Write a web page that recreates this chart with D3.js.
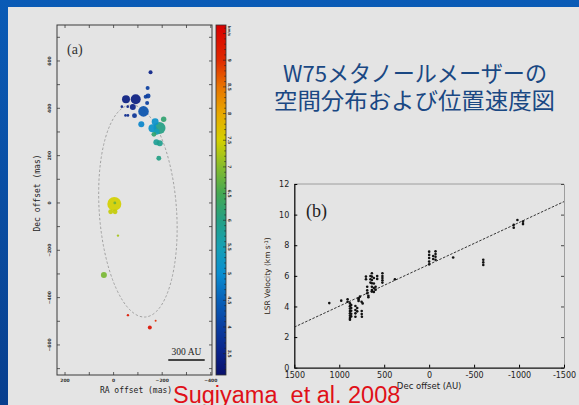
<!DOCTYPE html>
<html><head><meta charset="utf-8">
<script src="https://cdn.jsdelivr.net/npm/d3@7"></script>
<style>html,body{margin:0;padding:0;background:#e4e4e4;overflow:hidden}svg{display:block}</style>
</head><body><svg id="c" width="579" height="405"></svg>
<script>
// ---------------- data ----------------
const titleLines = ["W75メタノールメーザーの", "空間分布および位置速度図"];
const citation = "Sugiyama  et al. 2008";

// (a) methanol maser spots: offsets in mas, LSR velocity in km/s, peak flux (arb.)
const spotRA   = [-152,-140,-142,-132,-51,-91,-138,-34,-58,-79,-123,-49,-59,-86,-114,-171,-206,-160,-189,-177,-166,-176,-190,-186,-3,12,-6,-18,40,-59,-149,-173];
const spotDec  = [552,486,452,449,438,438,422,407,407,406,387,370,370,369,333,343,354,316,317,301,290,257,252,189,-4,-37,-37,-138,-304,-474,-526,-498];
const spotVlsr = [3.5,4.0,4.0,4.0,3.4,3.4,4.0,3.5,3.5,3.5,4.3,3.6,3.6,3.8,4.9,5.1,6.2,5.1,6.0,5.5,6.2,5.8,5.9,6.0,7.5,7.4,7.4,7.2,6.9,9.3,9.4,9.0];
const spotFlux = [4,4,6,4,16,25,4,1.7,1.7,9,28,1.7,1.7,6,9,12,7.3,16,36,9,6,9,9,6,49,6,6,1.4,9,1.4,4,1];
// faint spot sitting on top of the brightest one
const coreRA = [-5], coreDec = [0], coreVlsr = [6.8], coreFlux = [2];

const raTickLabels  = [200, 0, -200, -400];
const decTickLabels = [600, 400, 200, 0, -200, -400, -600];
const cbarTickLabels = [3.5, 4, 4.5, 5, 5.5, 6, 6.5, 7, 7.5, 8, 8.5, 9];
const ringCenter = [-100, -34];   // mas
const ringSemiAxes = [159, 449];  // mas (RA, Dec)
const ringTilt = -4;              // deg
const scaleBarAU = 300, distanceKpc = 2.0;

// (b) position-velocity diagram
const pvDec = [1111,978,907,907,881,881,881,881,881,881,881,881,867,867,867,867,867,820,820,820,820,800,800,785,785,785,770,752,750,750,748,740,703,703,689,689,689,676,676,653,653,653,637,637,637,637,637,637,637,615,615,615,615,596,596,578,578,520,520,520,520,520,381,0,0,0,0,0,-45,-45,-71,-71,-71,-71,-267,-602,-602,-602,-941,-941,-982,-1044,-1044];
const pvVel = [4.22,4.38,4.47,4.31,4.2,4.02,3.86,3.7,3.55,3.4,3.25,3.14,4.1,3.9,3.72,3.52,3.35,4.03,3.77,3.55,3.33,3.9,3.68,4.53,4.45,4.36,4.64,4.31,3.7,3.5,3.33,4.2,5.95,5.78,5.29,5.05,4.86,4.7,4.6,5.99,5.78,5.56,6.17,5.95,5.73,5.52,5.29,5.08,4.97,5.86,5.5,5.2,4.95,5.29,5.1,5.99,5.8,6.17,5.99,5.86,5.71,5.56,5.78,7.58,7.37,7.17,6.93,6.75,7.3,7.1,7.6,7.42,7.25,7.05,7.2,7.05,6.88,6.71,9.33,9.15,9.65,9.54,9.38];
const fitIntercept = 6.75, fitSlope = -0.002733;
const pvXTicks = [1500, 1000, 500, 0, -500, -1000, -1500];
const pvYTicks = [0, 2, 4, 6, 8, 10, 12];

// ---------------- drawing ----------------
const svg = d3.select("#c");
const defs = svg.append("defs");

// slide frame
const fg = defs.append("linearGradient").attr("id","frame").attr("x1",0).attr("y1",0).attr("x2",0).attr("y2",1);
fg.append("stop").attr("offset",0).attr("stop-color","#0a5bb6");
fg.append("stop").attr("offset",1).attr("stop-color","#083f8e");
svg.append("rect").attr("width",579).attr("height",405).attr("fill","url(#frame)");
svg.append("rect").attr("x",8).attr("y",7).attr("width",571).attr("height",398).attr("fill","#e4e4e4");

// velocity colormap
const vColor = d3.scaleLinear()
  .domain([3.1,3.5,4.0,4.5,5.0,5.5,6.0,6.5,7.0,7.5,8.0,8.5,9.0,9.65])
  .range(["#08106c","#0a2288","#0a3ea0","#0860b8","#0a8ed0","#16a0b4","#24a084","#44a852","#86bc2c","#d4d000","#e8a800","#e87400","#e02a00","#d80000"])
  .clamp(true);

// ----- panel (a) -----
const A = {l:57, r:212, t:25, b:375};
const xA = d3.scaleLinear().domain([233,-405]).range([A.l, A.r]);
const yA = d3.scaleLinear().domain([752,-727]).range([A.t, A.b]);
const rA = d3.scaleSqrt().domain([0,50]).range([0,7.07]);

const gA = svg.append("g");
// ring
const cx = xA(ringCenter[0]), cy = yA(ringCenter[1]);
gA.append("ellipse")
  .attr("cx",cx).attr("cy",cy)
  .attr("rx",Math.abs(xA(ringCenter[0]+ringSemiAxes[0])-cx))
  .attr("ry",Math.abs(yA(ringCenter[1]+ringSemiAxes[1])-cy))
  .attr("transform",`rotate(${ringTilt},${cx},${cy})`)
  .attr("fill","none").attr("stroke","#9a9a9a").attr("stroke-width",0.9).attr("stroke-dasharray","2.4,2");

// spots, brightest first so small ones stay visible
const spots = spotRA.map((d,i)=>({ra:d, dec:spotDec[i], v:spotVlsr[i], f:spotFlux[i]}))
  .sort((a,b)=>b.f-a.f)
  .concat(coreRA.map((d,i)=>({ra:d, dec:coreDec[i], v:coreVlsr[i], f:coreFlux[i]})));
gA.selectAll("circle.spot").data(spots).join("circle").attr("class","spot")
  .attr("cx",d=>xA(d.ra)).attr("cy",d=>yA(d.dec)).attr("r",d=>rA(d.f))
  .attr("fill",d=>vColor(d.v)).attr("fill-opacity",0.92);

// frame and ticks
gA.append("rect").attr("x",A.l).attr("y",A.t).attr("width",A.r-A.l).attr("height",A.b-A.t)
  .attr("fill","none").attr("stroke","#3a3a3a").attr("stroke-width",1);
const raMinor = d3.range(200,-401,-100), decMinor = d3.range(700,-701,-100);
raMinor.forEach(v=>{
  gA.append("line").attr("x1",xA(v)).attr("x2",xA(v)).attr("y1",A.b).attr("y2",A.b-3).attr("stroke","#3a3a3a").attr("stroke-width",0.8);
  gA.append("line").attr("x1",xA(v)).attr("x2",xA(v)).attr("y1",A.t).attr("y2",A.t+3).attr("stroke","#3a3a3a").attr("stroke-width",0.8);
});
decMinor.forEach(v=>{
  gA.append("line").attr("x1",A.l).attr("x2",A.l+3).attr("y1",yA(v)).attr("y2",yA(v)).attr("stroke","#3a3a3a").attr("stroke-width",0.8);
  gA.append("line").attr("x1",A.r).attr("x2",A.r-3).attr("y1",yA(v)).attr("y2",yA(v)).attr("stroke","#3a3a3a").attr("stroke-width",0.8);
});
gA.selectAll("text.ra").data(raTickLabels).join("text").attr("class","ra")
  .attr("x",d=>xA(d)).attr("y",A.b+7).attr("text-anchor","middle")
  .attr("font-family","DejaVu Sans").attr("font-size",4.5).attr("font-weight","bold").attr("fill","#333")
  .text(d=>d===0?"0":String(d).replace("-","−"));
gA.selectAll("text.dec").data(decTickLabels).join("text").attr("class","dec")
  .attr("transform",d=>`translate(${A.l-6},${yA(d)}) rotate(-90)`).attr("text-anchor","middle")
  .attr("font-family","DejaVu Sans").attr("font-size",4.5).attr("font-weight","bold").attr("fill","#333")
  .text(d=>d===0?"0":String(d).replace("-","−"));
gA.append("text").attr("transform",`translate(40,193) rotate(-90)`).attr("text-anchor","middle")
  .attr("font-family","DejaVu Sans Mono").attr("font-size",8).attr("fill","#222").text("Dec offset (mas)");
gA.append("text").attr("x",136).attr("y",393).attr("text-anchor","middle")
  .attr("font-family","DejaVu Sans Mono").attr("font-size",8).attr("fill","#222").text("RA offset (mas)");
gA.append("text").attr("x",67).attr("y",54).attr("font-family","Liberation Serif").attr("font-size",14).attr("fill","#333").text("(a)");

// scale bar
const barMas = scaleBarAU / distanceKpc;
const barRight = xA(-375);
const barLeft = barRight - Math.abs(xA(0)-xA(barMas));
gA.append("line").attr("x1",barLeft).attr("x2",barRight).attr("y1",360).attr("y2",360).attr("stroke","#111").attr("stroke-width",1.6);
gA.append("text").attr("x",(barLeft+barRight)/2).attr("y",355).attr("text-anchor","middle")
  .attr("font-family","Liberation Serif").attr("font-size",9.5).attr("fill","#222").text(`${scaleBarAU} AU`);

// colour bar
const C = {l:216, r:226};
const yC = d3.scaleLinear().domain([9.66,3.1]).range([A.t, A.b]);
const cg = defs.append("linearGradient").attr("id","cbar").attr("x1",0).attr("y1",0).attr("x2",0).attr("y2",1);
vColor.domain().slice().reverse().forEach(v=>{
  cg.append("stop").attr("offset",(yC(v)-A.t)/(A.b-A.t)).attr("stop-color",vColor(v));
});
gA.append("rect").attr("x",C.l).attr("y",A.t).attr("width",C.r-C.l).attr("height",A.b-A.t)
  .attr("fill","url(#cbar)").attr("stroke","#333").attr("stroke-width",0.8);
d3.range(3.2,9.65,0.1).forEach(v=>{
  const major = Math.abs(v*2-Math.round(v*2))<1e-6;
  gA.append("line").attr("x1",C.r).attr("x2",C.r-(major?3:1.8)).attr("y1",yC(v)).attr("y2",yC(v)).attr("stroke","#222").attr("stroke-width",0.6);
});
gA.selectAll("text.cb").data(cbarTickLabels).join("text").attr("class","cb")
  .attr("transform",d=>`translate(${C.r+2},${yC(d)}) rotate(90)`).attr("text-anchor","middle")
  .attr("font-family","DejaVu Sans").attr("font-size",4.5).attr("font-weight","bold").attr("fill","#333").text(d=>d);
gA.append("text").attr("transform",`translate(${C.r+2},${A.t+1}) rotate(90)`).attr("text-anchor","start")
  .attr("font-family","DejaVu Sans").attr("font-size",3.8).attr("font-weight","bold").attr("fill","#333").text("km/s");

// ----- panel (b) -----
const B = {l:294.3, r:564, t:184, b:367.7};
const xB = d3.scaleLinear().domain([1500,-1500]).range([B.l,B.r]);
const yB = d3.scaleLinear().domain([0,12]).range([B.b,B.t]);
const gB = svg.append("g");
const tickFont = g=>g.selectAll("text").attr("font-family","DejaVu Sans").attr("font-size",8).attr("fill","#222");

gB.append("line").attr("x1",B.l).attr("x2",B.r).attr("y1",B.t).attr("y2",B.t).attr("stroke","#8a8a8a").attr("stroke-width",0.8);
gB.append("g").attr("transform",`translate(${B.r},0)`)
  .call(d3.axisRight(yB).tickValues(pvYTicks).tickSize(-3).tickSizeOuter(0).tickFormat(""))
  .call(g=>g.select(".domain").attr("stroke","#8a8a8a").attr("stroke-width",0.8))
  .call(g=>g.selectAll(".tick line").attr("stroke","#444"));
gB.append("g").attr("transform",`translate(${B.l},0)`)
  .call(d3.axisLeft(yB).tickValues(pvYTicks).tickSize(-3).tickSizeOuter(0).tickPadding(5).tickFormat(d3.format("d")))
  .call(g=>g.select(".domain").attr("stroke","#111").attr("stroke-width",1.3))
  .call(tickFont);
gB.append("g").attr("transform",`translate(0,${B.b})`)
  .call(d3.axisBottom(xB).tickValues(pvXTicks).tickSize(-3).tickSizeOuter(0).tickPadding(5).tickFormat(d=>d===0?"0":String(d)))
  .call(g=>g.select(".domain").attr("stroke","#111").attr("stroke-width",1.3))
  .call(tickFont);

// fitted gradient
const fitX = xB.domain();
gB.append("line")
  .attr("x1",xB(fitX[0])).attr("y1",yB(fitIntercept+fitSlope*fitX[0]))
  .attr("x2",xB(fitX[1])).attr("y2",yB(fitIntercept+fitSlope*fitX[1]))
  .attr("stroke","#333").attr("stroke-width",1).attr("stroke-dasharray","2.5,1.5");

gB.selectAll("circle.pv").data(pvDec.map((d,i)=>[d,pvVel[i]])).join("circle").attr("class","pv")
  .attr("cx",d=>xB(d[0])).attr("cy",d=>yB(d[1])).attr("r",1.3).attr("fill","#111");

gB.append("text").attr("x",(B.l+B.r)/2).attr("y",389).attr("text-anchor","middle")
  .attr("font-family","DejaVu Sans").attr("font-size",8.5).attr("fill","#222").text("Dec offset (AU)");
const yl = gB.append("text").attr("transform",`translate(270,${(B.t+B.b)/2}) rotate(-90)`).attr("text-anchor","middle")
  .attr("font-family","DejaVu Sans").attr("font-size",7.5).attr("fill","#2a1a10");
yl.append("tspan").text("LSR Velocity (km s");
yl.append("tspan").attr("dy",-2.5).attr("font-size",5).text("-1");
yl.append("tspan").attr("dy",2.5).text(")");
gB.append("text").attr("x",306).attr("y",217).attr("font-family","Liberation Serif").attr("font-size",18).attr("fill","#222").text("(b)");

// ----- title and citation -----
const titleWidths = [264, 281];
svg.selectAll("text.title").data(titleLines).join("text").attr("class","title")
  .attr("x",(d,i)=>i===0?283:274).attr("y",(d,i)=>i===0?82:109)
  .attr("textLength",(d,i)=>titleWidths[i]).attr("lengthAdjust","spacingAndGlyphs")
  .attr("font-family","Noto Sans CJK JP").attr("font-size",22.5).attr("fill","#1a4883").text(d=>d);
svg.append("text").attr("x",173).attr("y",402.5).attr("font-family","Liberation Sans").attr("font-size",23.5)
  .attr("fill","#e01018").text(citation).style("white-space","pre");
</script></body></html>
